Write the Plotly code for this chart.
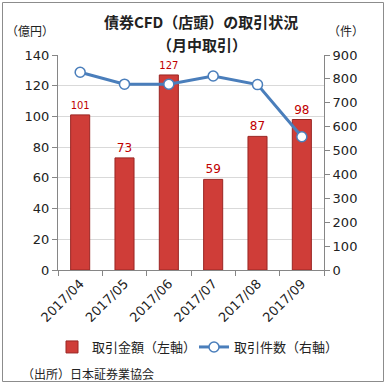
import plotly.graph_objects as go

months = ["2017/04", "2017/05", "2017/06", "2017/07", "2017/08", "2017/09"]
amount = [101, 73, 127, 59, 87, 98]          # 取引金額（億円）
count = [828, 778, 778, 812, 776, 558]       # 取引件数（件）

JP = "Noto Sans CJK JP"
NUM = "DejaVu Sans"

fig = go.Figure()
fig.add_trace(go.Bar(
    x=months, y=amount, name="取引金額（左軸）",
    marker=dict(color="#CF3D38", line=dict(color="#9A2623", width=1)),
    width=0.43,
    text=[str(v) for v in amount], textposition="outside",
    textfont=dict(color="#C00000", size=12, family=NUM),
    cliponaxis=False, yaxis="y", legend="legend",
))
fig.add_trace(go.Scatter(
    x=months, y=count, name="取引件数（右軸）", mode="lines+markers",
    line=dict(color="#4A7EBB", width=3),
    marker=dict(symbol="circle", size=10, color="white",
                line=dict(color="#4A7EBB", width=1.5)),
    yaxis="y2", legend="legend2",
))

W, H = 386, 385
L, R, T, B = 58, 62, 55, 115
pw, ph = W - L - R, H - T - B
def px(x): return (x - L) / pw
def py(y): return (H - B - y) / ph

def ann(text, x, y, size=12, xanchor="center"):
    return dict(text=text, x=px(x), y=py(y), xref="paper", yref="paper",
                xanchor=xanchor, yanchor="middle", showarrow=False,
                font=dict(family=JP, size=size, color="#222"))

def leg(x):
    return dict(orientation="h", x=px(x), xanchor="left", y=py(347), yanchor="middle",
                font=dict(family=JP, size=13, color="#222"), itemwidth=30,
                bgcolor="rgba(0,0,0,0)")

fig.update_layout(
    width=W, height=H, margin=dict(l=L, r=R, t=T, b=B, autoexpand=False),
    paper_bgcolor="white", plot_bgcolor="white",
    font=dict(family=JP, size=12, color="#222"),
    showlegend=True,
    legend=leg(52),
    legend2=leg(194),
    bargap=0.5,
    xaxis=dict(showline=True, linecolor="#868686", ticks="outside", tickson="boundaries",
               ticklen=5, tickcolor="#868686", tickangle=-45,
               tickfont=dict(family=NUM, size=13, color="#222")),
    yaxis=dict(range=[0, 140], dtick=20, showline=True, linecolor="#868686",
               ticks="outside", ticklen=5, tickcolor="#868686",
               gridcolor="#D9D9D9", zeroline=False,
               tickfont=dict(family=NUM, size=13, color="#222")),
    yaxis2=dict(range=[0, 900], dtick=100, overlaying="y", side="right",
                showline=True, linecolor="#868686", ticks="outside", ticklen=5,
                tickcolor="#868686", showgrid=False, zeroline=False,
                tickfont=dict(family=NUM, size=13, color="#222")),
    annotations=[
        ann("<b>債券CFD（店頭）の取引状況</b>", 201, 22, size=15),
        ann("<b>（月中取引）</b>", 202, 45, size=15),
        ann("（億円）", 30, 31),
        ann("（件）", 346, 31),
        ann("（出所）日本証券業協会", 20, 373, xanchor="left"),
    ],
    shapes=[dict(type="rect", xref="paper", yref="paper",
                 x0=px(2.5), x1=px(383.5), y0=py(381.5), y1=py(2.5),
                 line=dict(color="#8C8C8C", width=1))],
)

fig.write_html("out.html")
